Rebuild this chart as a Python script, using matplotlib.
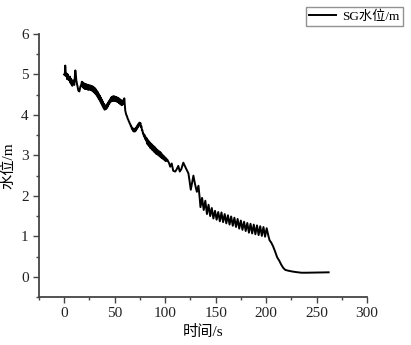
import numpy as np
import matplotlib.pyplot as plt
from matplotlib.ticker import MultipleLocator

plt.rcParams['font.family'] = ['Liberation Serif', 'Noto Sans CJK SC']
plt.rcParams['axes.unicode_minus'] = False

# water level record
# spiky start
t_start = [0, 0.5, 1, 1.5, 2, 2.5, 3, 3.5, 4, 5, 5.5, 6, 6.5, 7, 8, 8.5,
           9, 10, 10.5, 11, 11.5, 12, 13, 14, 15, 16, 17, 17.5]
h_start = [5.0, 4.98, 5.22, 5.05, 4.95, 5.02, 4.88, 5.0, 4.9, 4.85, 4.95, 4.8,
           4.9, 4.76, 4.72, 4.86, 4.8, 4.74, 4.95, 5.1, 5.0, 4.85, 4.72, 4.6,
           4.58, 4.7, 4.76, 4.82]

# dense band 18 - 60 s
t_band1 = [18, 18.5, 19, 19.5, 20, 20.5, 21, 21.5, 22, 22.5, 23, 23.5, 24, 24.5,
           25, 25.5, 26, 26.5, 27, 27.5, 28, 28.5, 29, 29.5, 30, 30.5, 31, 31.5,
           32, 32.5, 33, 33.5, 34, 34.5, 35, 35.5, 36, 36.5, 37, 37.5, 38, 38.5,
           39, 39.5, 40, 40.5, 41, 41.5, 42, 42.5, 43, 43.5, 44, 44.5, 45, 45.5,
           46, 46.5, 47, 47.5, 48, 48.5, 49, 49.5, 50, 50.5, 51, 51.5, 52, 52.5,
           53, 53.5, 54, 54.5, 55, 55.5, 56, 56.5, 57, 57.5, 58, 58.5, 59, 59.5]
h_band1 = [4.7, 4.8, 4.67, 4.78, 4.65, 4.77, 4.64, 4.76, 4.65, 4.75, 4.63, 4.74,
           4.62, 4.73, 4.63, 4.73, 4.62, 4.72, 4.61, 4.71, 4.59, 4.7, 4.57, 4.68,
           4.55, 4.66, 4.52, 4.63, 4.49, 4.59, 4.45, 4.56, 4.41, 4.51, 4.37, 4.47,
           4.32, 4.42, 4.27, 4.37, 4.22, 4.32, 4.17, 4.27, 4.13, 4.23, 4.14, 4.24,
           4.16, 4.27, 4.2, 4.31, 4.25, 4.35, 4.29, 4.39, 4.32, 4.43, 4.34, 4.45,
           4.35, 4.46, 4.35, 4.46, 4.35, 4.45, 4.34, 4.44, 4.33, 4.43, 4.32, 4.42,
           4.3, 4.4, 4.28, 4.38, 4.26, 4.36, 4.24, 4.34, 4.26, 4.37, 4.29, 4.41]

# descent with a second dense band 60 - 103 s
t_band2 = [60.5, 61.5, 62, 62.5, 63, 63.5, 64, 64.5, 65, 65.5, 66, 66.5, 67, 67.5,
           68, 68.5, 69, 69.5, 70, 70.5, 71, 71.5, 72, 72.5, 73, 73.5, 74, 74.5,
           75, 75.5, 76, 76.5, 77, 77.5, 78, 78.5, 79, 79.5, 80, 80.5, 81, 81.5,
           82, 82.5, 83, 83.5, 84, 84.5, 85, 85.5, 86, 86.5, 87, 87.5, 88, 88.5,
           89, 89.5, 90, 90.5, 91, 91.5, 92, 92.5, 93, 93.5, 94, 94.5, 95, 95.5,
           96, 96.5, 97, 97.5, 98, 98.5, 99, 99.5, 100, 100.5, 101, 102, 103]
h_band2 = [4.1, 4.0, 3.98, 3.94, 3.9, 3.88, 3.84, 3.82, 3.78, 3.77, 3.72, 3.72,
           3.66, 3.68, 3.61, 3.66, 3.59, 3.65, 3.59, 3.67, 3.61, 3.7, 3.65, 3.74,
           3.69, 3.78, 3.73, 3.81, 3.76, 3.8, 3.7, 3.72, 3.62, 3.62, 3.54, 3.54,
           3.47, 3.51, 3.41, 3.46, 3.37, 3.43, 3.29, 3.39, 3.26, 3.36, 3.23, 3.33,
           3.19, 3.3, 3.17, 3.28, 3.14, 3.25, 3.12, 3.23, 3.09, 3.21, 3.07, 3.18,
           3.04, 3.15, 3.03, 3.13, 3.01, 3.11, 2.99, 3.09, 2.97, 3.07, 2.95, 3.04,
           2.93, 3.01, 2.91, 2.99, 2.89, 2.96, 2.87, 2.94, 2.86, 2.9, 2.85]

# irregular drop 104 - 134 s
t_drop = [104, 105, 106.5, 108, 110, 111.5, 113, 114.5, 116, 118, 119.5, 121,
          123, 124, 125.4, 126.5, 128, 129.5, 131.4, 133, 134.2]
h_drop = [2.8, 2.72, 2.8, 2.62, 2.6, 2.66, 2.74, 2.6, 2.66, 2.82, 2.74, 2.66,
          2.56, 2.4, 2.15, 2.3, 2.5, 2.3, 2.1, 2.25, 1.95]

# regular oscillation 135 - 203 s
t_osc = [135, 136.6, 138.2, 139.8, 141.4, 143, 144.6, 146.2, 147.8, 149.4, 151,
         152.6, 154.2, 155.8, 157.4, 159, 160.6, 162.2, 163.8, 165.4, 167, 168.6,
         170.2, 171.8, 173.4, 175, 176.6, 178.2, 179.8, 181.4, 183, 184.6, 186.2,
         187.8, 189.4, 191, 192.6, 194.2, 195.8, 197.4, 199, 200.6, 202.2]
h_osc = [1.72, 1.95, 1.65, 1.88, 1.55, 1.78, 1.5, 1.7, 1.44, 1.63, 1.41, 1.6,
         1.37, 1.59, 1.35, 1.55, 1.32, 1.52, 1.29, 1.49, 1.26, 1.46, 1.23, 1.43,
         1.19, 1.39, 1.16, 1.36, 1.13, 1.33, 1.09, 1.31, 1.07, 1.29, 1.05, 1.27,
         1.03, 1.25, 1.01, 1.23, 0.99, 1.2, 1.02]

# final drain
t_end = [203.5, 205, 207, 209, 211, 213, 215, 217, 219, 222, 226, 230, 235, 240,
         250, 262]
h_end = [0.9, 0.85, 0.75, 0.62, 0.48, 0.4, 0.3, 0.22, 0.17, 0.15, 0.13, 0.115,
         0.1, 0.1, 0.105, 0.11]

time = t_start + t_band1 + t_band2 + t_drop + t_osc + t_end
level = h_start + h_band1 + h_band2 + h_drop + h_osc + h_end

fig = plt.figure(figsize=(4.11, 3.45), dpi=100)
ax = fig.add_axes([39 / 411, 1 - 297 / 345, (367 - 39) / 411, (297 - 34) / 345])

ax.plot(time, level, color='black', lw=1.4, label='SG水位/m')

ax.set_xlim(-25, 300)
ax.set_ylim(-0.5, 6)
ax.xaxis.set_major_locator(MultipleLocator(50))
ax.xaxis.set_minor_locator(MultipleLocator(25))
ax.yaxis.set_major_locator(MultipleLocator(1))
ax.yaxis.set_minor_locator(MultipleLocator(0.5))

for side in ['top', 'right']:
    ax.spines[side].set_visible(False)
for side in ['left', 'bottom']:
    ax.spines[side].set_color('#444444')
    ax.spines[side].set_linewidth(1.3)

ax.tick_params(which='major', direction='out', length=4, width=1, colors='#444444',
               labelcolor='#222222', labelsize=11)
ax.tick_params(which='minor', direction='out', length=2.5, width=1, colors='#444444')

ax.set_xlabel('时间/s', fontsize=11, labelpad=3)
ax.set_ylabel('水位/m', fontsize=11, labelpad=4)

fig.legend(loc='upper right', bbox_to_anchor=(403 / 411, 1 - 7 / 345),
           fontsize=9.5, frameon=True, fancybox=False, edgecolor='#777777',
           handlelength=2.0, borderpad=0.25, handletextpad=0.5, borderaxespad=0)

fig.savefig('out.png', dpi=100)
